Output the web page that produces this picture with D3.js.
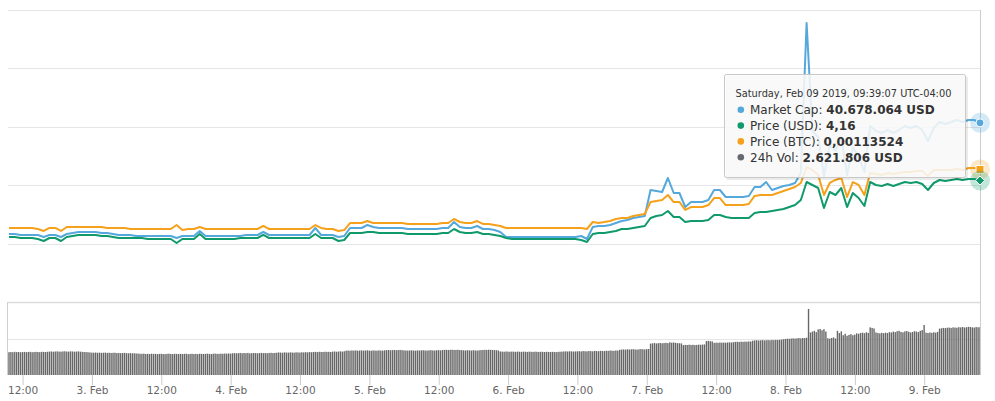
<!DOCTYPE html>
<html><head><meta charset="utf-8">
<script src="https://cdn.jsdelivr.net/npm/d3@7"></script>
<style>body{margin:0;background:#fff}svg{display:block;font-family:"DejaVu Sans",Verdana,sans-serif}</style>
</head><body><svg id="c" width="995" height="401"></svg>
<script>
// ---- data (local time UTC-04:00, stored as UTC clock values) ----
const startTime = Date.UTC(2019,1,2,9,39,7);
const endTime   = Date.UTC(2019,1,9,9,39,7);
const lineStepMinutes = 60;
const volStepMinutes = 20;

// Market cap, USD millions (hourly)
const marketCapM = [21.644,21.644,21.473,21.473,21.473,21.473,21.130,21.473,21.473,21.130,
21.644,21.815,21.986,21.986,21.986,21.986,21.815,21.815,21.644,21.473,
21.473,21.473,21.301,21.301,21.301,21.301,21.301,21.301,21.301,20.959,
21.301,21.301,21.301,22.158,21.301,21.301,21.301,21.301,21.301,21.301,
21.301,21.473,21.473,21.473,21.986,21.473,21.473,21.473,21.473,21.473,
21.473,21.473,21.473,22.671,21.473,21.473,21.473,21.130,21.301,22.671,
22.671,22.671,23.185,22.842,22.671,22.671,22.671,22.671,22.671,22.500,
22.500,22.500,22.500,22.500,22.500,22.671,22.671,23.699,22.842,22.671,
22.671,23.014,22.500,22.500,22.329,21.986,21.130,21.130,21.130,21.130,
21.130,21.130,21.130,21.130,21.130,21.130,21.130,21.130,21.130,21.301,
20.788,22.842,23.014,23.014,23.185,23.527,23.870,24.041,24.384,24.555,
24.726,29.178,29.007,28.836,31.233,28.664,28.664,26.267,27.123,27.123,
27.123,27.466,29.178,29.178,27.979,27.979,27.979,27.979,28.151,29.692,
29.692,30.548,29.178,29.521,29.863,30.034,30.377,32.089,57.774,39.281,
38.253,31.575,36.884,35.856,38.253,31.747,36.541,34.829,32.260,40.137,
39.281,38.938,39.452,38.938,39.452,40.137,39.795,40.137,39.452,37.568,
39.795,40.822,40.479,40.822,41.164,40.822,41.164,41.164,40.678];

// Price in USD (hourly)
const priceUSD = [2.226,2.226,2.192,2.192,2.192,2.158,2.089,2.192,2.192,2.089,
2.226,2.260,2.295,2.295,2.295,2.295,2.260,2.260,2.226,2.192,
2.192,2.192,2.192,2.192,2.158,2.158,2.158,2.158,2.158,2.021,
2.158,2.158,2.158,2.329,2.158,2.158,2.158,2.158,2.158,2.158,
2.192,2.192,2.192,2.192,2.295,2.192,2.192,2.192,2.192,2.192,
2.192,2.192,2.192,2.329,2.192,2.192,2.192,2.089,2.123,2.363,
2.363,2.363,2.397,2.397,2.363,2.363,2.363,2.363,2.363,2.329,
2.329,2.329,2.329,2.329,2.329,2.363,2.363,2.500,2.397,2.363,
2.363,2.397,2.329,2.329,2.295,2.260,2.192,2.158,2.158,2.158,
2.158,2.158,2.158,2.158,2.158,2.158,2.158,2.158,2.158,2.123,
2.055,2.329,2.363,2.363,2.397,2.432,2.500,2.500,2.534,2.568,
2.603,2.877,2.945,2.979,3.116,2.911,2.911,2.740,2.774,2.774,
2.774,2.808,2.979,2.979,2.911,2.877,2.877,2.877,2.877,3.048,
3.082,3.082,3.116,3.151,3.185,3.253,3.322,3.493,4.110,4.007,
3.904,3.219,3.767,3.664,3.904,3.253,3.733,3.562,3.288,4.110,
4.007,3.973,4.041,3.973,4.041,4.110,4.075,4.110,4.041,3.836,
4.075,4.178,4.144,4.178,4.212,4.178,4.212,4.212,4.16];

// Price in BTC (hourly)
const priceBTC = [0.000634,0.000634,0.000634,0.000634,0.000634,0.000625,0.000608,0.000634,0.000634,0.000608,
0.000642,0.000642,0.000642,0.000642,0.000642,0.000642,0.000642,0.000634,0.000634,0.000634,
0.000634,0.000625,0.000625,0.000625,0.000625,0.000625,0.000625,0.000625,0.000625,0.000659,
0.000616,0.000625,0.000625,0.000642,0.000625,0.000625,0.000625,0.000625,0.000625,0.000625,
0.000625,0.000625,0.000625,0.000625,0.000651,0.000625,0.000625,0.000625,0.000625,0.000625,
0.000625,0.000625,0.000625,0.000659,0.000634,0.000625,0.000625,0.000608,0.000616,0.000676,
0.000676,0.000676,0.000693,0.000676,0.000676,0.000676,0.000676,0.000676,0.000676,0.000668,
0.000668,0.000668,0.000668,0.000668,0.000668,0.000676,0.000676,0.000711,0.000685,0.000676,
0.000676,0.000693,0.000668,0.000668,0.000659,0.000651,0.000634,0.000634,0.000634,0.000634,
0.000634,0.000634,0.000634,0.000634,0.000634,0.000634,0.000634,0.000634,0.000634,0.000634,
0.000625,0.000685,0.000676,0.000685,0.000693,0.000711,0.000719,0.000719,0.000736,0.000745,
0.000753,0.000856,0.000865,0.000873,0.000916,0.000856,0.000856,0.000788,0.000813,0.000813,
0.000813,0.000830,0.000890,0.000890,0.000830,0.000830,0.000830,0.000830,0.000839,0.000908,
0.000916,0.000916,0.000916,0.000933,0.000950,0.000967,0.000985,0.001019,0.001156,0.001130,
0.001087,0.000916,0.001019,0.001045,0.001062,0.000899,0.001027,0.001002,0.000916,0.001104,
0.001096,0.001087,0.001104,0.001096,0.001104,0.001113,0.001113,0.001122,0.001122,0.001079,
0.001130,0.001130,0.001130,0.001130,0.001139,0.001130,0.001147,0.001147,0.00113524];

// 24h volume, thousand USD (every 20 minutes)
const volumeK = [
1250,1262,1248,1270,1255,1261,1244,1258,1266,1251,1263,1270,1249,1257,1268,1260,1252,1271,1265,1259,1274,
1282,1290,1276,1288,1295,1284,1279,1292,1300,1286,1281,1294,1289,1277,1285,1293,1280,1270,1262,1255,1248,
1235,1228,1222,1230,1218,1225,1214,1220,1226,1212,1219,1208,1215,1221,1203,1210,1198,1205,1212,1196,1190,1200,1186,1193,1180,1175,
1165,1158,1170,1152,1161,1148,1166,1155,1160,1144,1157,1163,1150,1146,1159,1168,1153,1149,1162,1155,1147,1160,1151,1158,1166,1143,1154,1161,1150,1157,1148,1163,1155,1152,1160,1168,1158,1149,1165,1172,1160,1155,1170,1163,1176,1168,1180,1174,
1190,1200,1185,1196,1208,1192,1203,1198,1210,1188,1195,1206,1200,1191,1202,1212,1197,1205,1193,1208,1215,1202,1210,
1222,1235,1228,1219,1240,1230,1226,1238,1232,1224,1242,1236,1229,1245,1238,1250,1242,1255,1248,
1260,1268,1255,1272,1264,1259,1275,1266,1270,1262,1280,1290,1274,1285,1296,1282,1300,
1335,1342,1330,1345,1338,1350,1332,1340,1348,1336,1344,1352,1339,1330,1346,1341,1335,1349,1342,1338,
1355,1362,1370,1358,1365,1372,1360,1368,1375,1362,1350,1343,1338,1346,1352,1340,1335,1348,1342,1350,
1356,1345,1338,1352,1360,1348,1342,1355,1361,1350,1368,1375,1380,1372,1378,1385,1370,1376,1382,1368,
1360,1352,1345,1358,1350,1342,1356,1348,1340,1352,1365,1372,1380,1374,1386,1378,1370,1366,1358,1340,
1290,1282,1275,1288,1280,1272,1285,1278,1270,1282,1276,1268,1280,1274,1266,1279,1272,1265,1278,1270,
1262,1275,1268,1260,1272,1265,1258,1270,1263,1256,1268,1275,1282,1290,1296,1288,1300,1294,1286,1292,
1298,1305,1292,1310,1302,1296,1315,1308,1300,1320,1312,1305,1325,1318,1310,1330,1322,1340,1332,1325,1345,1338,
1380,1395,1402,1388,1410,1398,1405,1415,1400,1392,1408,1420,1412,1402,1418,1425,
1720,1735,1748,1730,1742,1755,1738,1750,1762,1745,1790,1770,1782,1758,1745,1740,1732,
1640,1652,1645,1660,1648,1655,1642,1650,1662,1656,1668,1675,
1860,1872,1850,1845,
1760,1772,1765,1780,1770,1775,1768,1782,1790,1778,
1800,1815,1822,1810,1828,1818,1830,1825,1840,1835,
1880,1895,1905,1888,1900,1912,1898,1906,1915,1902,1920,1910,1925,1918,1930,1940,
1960,1975,1990,1982,2000,2010,1995,2012,2025,2008,2030,2020,2045,
3620,
2330,2380,2420,2350,2500,2520,2450,2510,2380,
2010,1990,2030,2060,2000,
2420,2300,2390,2180,2260,
2150,2200,2240,2180,2210,2280,2260,
2300,2320,2290,2340,2310,
2610,2580,2550,
2330,2300,2280,2310,2290,2320,2300,2350,2330,
2380,2350,2400,2420,2360,2340,2390,2410,2370,2330,2360,2400,2380,2350,2420,2460,2740,
2320,2300,2330,2310,2340,2320,2360,
2540,2560,2580,2570,2590,2600,2580,2610,2600,2590,2620,2610,2630,2600,2620,2640,2630,2610,2600,2625,2615,2622];

const seriesNames = ["Market Cap","Price (USD)","Price (BTC)","24h Vol"];
const seriesColors = ["#55a8dc","#109a6c","#f5a11c","#666a70"];
const tooltipHeader = "Saturday, Feb 09 2019, 09:39:07 UTC-04:00";
const tooltipValues = ["40.678.064 USD","4,16","0,00113524","2.621.806 USD"];
const tickTimes = [];
for (let t = Date.UTC(2019,1,2,12); t <= Date.UTC(2019,1,9,0); t += 12*3600e3) tickTimes.push(t);

// ---- layout ----
const svg = d3.select("#c");
const L = 9, R = 980, mainTop = 10, mainBot = 302, volTop = 302, volBot = 375;

const x = d3.scaleUtc().domain([startTime, endTime]).range([L, R]);
const yMC  = d3.scaleLinear().domain([10, 60]).range([mainBot, mainTop]);
const yUSD = d3.scaleLinear().domain([0, 10]).range([mainBot, mainTop]);
const yBTC = d3.scaleLinear().domain([0, 0.0025]).range([mainBot, mainTop]);
const yVol = d3.scaleLinear().domain([0, 4000]).range([volBot, volTop]);

const lineT = i => startTime + i*lineStepMinutes*60e3;
const volT  = j => startTime + j*volStepMinutes*60e3;

// grid lines main panel
svg.append("g").selectAll("line").data(yMC.ticks(5)).join("line")
  .attr("x1", L-1).attr("x2", R).attr("y1", d=>Math.round(yMC(d))+0.5).attr("y2", d=>Math.round(yMC(d))+0.5)
  .attr("stroke", d=> d===10 ? "#dcdcdc" : "#e6e6e6").attr("stroke-width", d=> d===10 ? 1.5 : 1);
// grid line volume panel
svg.append("g").selectAll("line").data([2000]).join("line")
  .attr("x1", L-1).attr("x2", R).attr("y1", d=>Math.round(yVol(d))+0.5).attr("y2", d=>Math.round(yVol(d))+0.5)
  .attr("stroke", "#e6e6e6");
// volume panel left edge
svg.append("line").attr("x1", 7.5).attr("x2", 7.5).attr("y1", volTop).attr("y2", volBot).attr("stroke", "#d0d0d0");

// volume bars
svg.append("g").selectAll("rect").data(volumeK).join("rect")
  .attr("x", (d,j)=>x(volT(j))-0.7).attr("width", 1.4)
  .attr("y", d=>yVol(d)).attr("height", d=>volBot - yVol(d))
  .attr("fill", "#676767");

// crosshair / right edge
svg.append("line").attr("x1", R+0.5).attr("x2", R+0.5).attr("y1", mainTop).attr("y2", volBot).attr("stroke", "#cccccc");

// x axis
const fmt = d => (new Date(d)).getUTCHours() === 0 ? d3.utcFormat("%-d. %b")(d) : d3.utcFormat("%H:%M")(d);
const ax = svg.append("g").attr("transform", `translate(0,${volBot})`)
  .call(d3.axisBottom(x).tickValues(tickTimes).tickFormat(fmt).tickSize(10));
ax.select(".domain").remove();
ax.selectAll(".tick line").attr("stroke", "#cccccc");
ax.selectAll(".tick text").attr("y", 19.3).attr("dy", 0).attr("fill", "#666")
  .style("font-family", '"DejaVu Sans",Verdana,sans-serif').style("font-size", "10.5px");

// lines
const mk = (arr, ys) => d3.line().x((d,i)=>x(lineT(i))).y(d=>ys(d)).curve(d3.curveLinear)(arr);
svg.append("path").attr("d", mk(marketCapM, yMC)).attr("fill","none").attr("stroke", seriesColors[0]).attr("stroke-width", 2).attr("stroke-linejoin","round");
svg.append("path").attr("d", mk(priceUSD, yUSD)).attr("fill","none").attr("stroke", seriesColors[1]).attr("stroke-width", 2).attr("stroke-linejoin","round");
svg.append("path").attr("d", mk(priceBTC, yBTC)).attr("fill","none").attr("stroke", seriesColors[2]).attr("stroke-width", 2).attr("stroke-linejoin","round");

// hover markers at last point
const lastI = marketCapM.length - 1;
const lx = x(lineT(lastI));
const mcY = yMC(marketCapM[lastI]), usdY = yUSD(priceUSD[lastI]), btcY = yBTC(priceBTC[lastI]);
svg.append("circle").attr("cx", lx).attr("cy", mcY).attr("r", 10).attr("fill", seriesColors[0]).attr("opacity", 0.25);
svg.append("circle").attr("cx", lx).attr("cy", mcY).attr("r", 4).attr("fill", seriesColors[0]).attr("stroke","#fff").attr("stroke-width",1);
svg.append("circle").attr("cx", lx).attr("cy", btcY).attr("r", 10).attr("fill", seriesColors[2]).attr("opacity", 0.25);
svg.append("rect").attr("x", lx-4).attr("y", btcY-4).attr("width", 8).attr("height", 8).attr("fill", seriesColors[2]).attr("stroke","#fff").attr("stroke-width",1);
svg.append("circle").attr("cx", lx).attr("cy", usdY).attr("r", 10).attr("fill", seriesColors[1]).attr("opacity", 0.25);
svg.append("path").attr("d", `M${lx},${usdY-4.5}L${lx+4.5},${usdY}L${lx},${usdY+4.5}L${lx-4.5},${usdY}Z`).attr("fill", seriesColors[1]).attr("stroke","#fff").attr("stroke-width",1);

// tooltip
const tt = svg.append("g").attr("transform", "translate(724.5,74.5)");
tt.append("rect").attr("x", 1.5).attr("y", 1.5).attr("width", 242).attr("height", 104).attr("rx", 2).attr("fill", "rgba(0,0,0,0.08)");
tt.append("rect").attr("x", 0).attr("y", 0).attr("width", 241).attr("height", 103).attr("rx", 2)
  .attr("fill", "rgba(252,252,252,0.86)").attr("stroke", "#c8c8c8").attr("stroke-width", 1);
tt.append("text").attr("x", 11).attr("y", 22.8).attr("font-size", "9.8px").attr("fill", "#333").text(tooltipHeader);
seriesNames.forEach((n, k) => {
  const by = 39.6 + k*15.8;
  tt.append("circle").attr("cx", 16.3).attr("cy", by - 4.3).attr("r", 3.3).attr("fill", seriesColors[k]);
  const t = tt.append("text").attr("x", 25.5).attr("y", by).attr("font-size", "12px").attr("fill", "#333");
  t.append("tspan").text(n + ": ");
  t.append("tspan").attr("font-weight", "bold").text(tooltipValues[k]);
});
</script></body></html>
